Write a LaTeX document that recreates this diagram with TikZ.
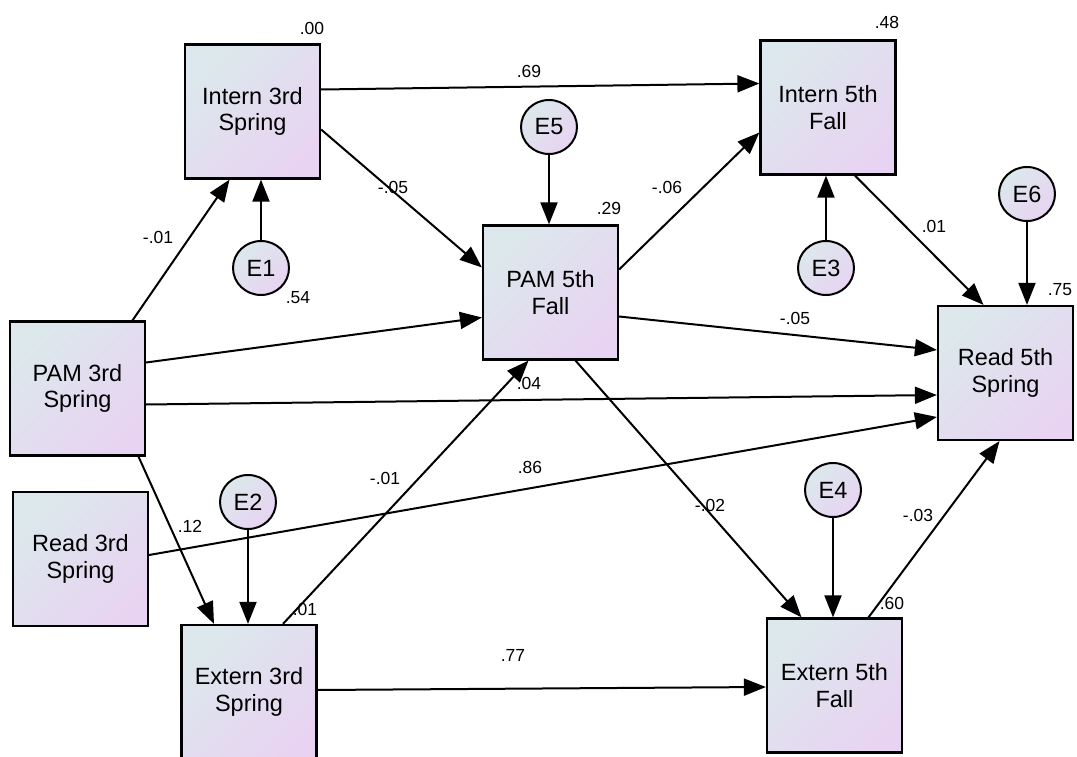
\documentclass[tikz,border=0pt]{standalone}
\usepackage{fontspec}
\setmainfont{Liberation Sans}
\usetikzlibrary{arrows.meta,shapes.geometric,calc}
\definecolor{gA}{RGB}{220,232,236}
\definecolor{gB}{RGB}{232,212,242}
\begin{document}
\begin{tikzpicture}[x=1pt,y=-1pt,
  var/.style={draw, line width=2.2pt, top color=gA, bottom color=gB, shading angle=45,
    minimum width=135pt, minimum height=134pt, inner sep=0pt, align=center,
    font=\fontsize{23.5}{26.5}\selectfont},
  err/.style={ellipse, draw, line width=2pt, top color=gA, bottom color=gB, shading angle=45,
    minimum width=56pt, minimum height=54pt, inner sep=0pt,
    font=\fontsize{23.5}{26.5}\selectfont},
  arr/.style={-{Triangle[length=22pt,width=17pt]}, line width=2pt},
  lab/.style={font=\fontsize{17.5}{20}\selectfont, inner sep=0pt}
]
\useasboundingbox (0,0) rectangle (1077,757);

% observed variables
\node[var] (I3) at (252.5,111.5) {Intern 3rd\\Spring};
\node[var] (P3) at (77.5,388.5) {PAM 3rd\\Spring};
\node[var] (R3) at (80.5,559) {Read 3rd\\Spring};
\node[var] (X3) at (249,692) {Extern 3rd\\Spring};
\node[var] (P5) at (550.5,292.5) {PAM 5th\\Fall};
\node[var] (I5) at (828,107.5) {Intern 5th\\Fall};
\node[var] (R5) at (1005.5,373) {Read 5th\\Spring};
\node[var] (X5) at (834.5,685.5) {Extern 5th\\Fall};

% error terms
\node[err] (E1) at (261,268) {E1};
\node[err] (E2) at (248,502) {E2};
\node[err] (E3) at (826,268) {E3};
\node[err] (E4) at (833,490) {E4};
\node[err] (E5) at (549,127) {E5};
\node[err] (E6) at (1027,194) {E6};

% paths
\draw[arr] ($(P3.north)+(55,0)$) -- ($(I3.south)+(-23,0)$);
\draw[arr] (E1.north) -- (E1.north |- I3.south);
\draw[arr] ($(I3.east)+(0,-22)$) -- ($(I5.west)+(0,-24)$);
\draw[arr] ($(I3.east)+(0,18)$) -- ($(P5.west)+(0,-25)$);
\draw[arr] ($(P3.east)+(0,-26)$) -- ($(P5.west)+(0,25)$);
\draw[arr] ($(P3.east)+(0,16)$) -- ($(R5.west)+(0,22)$);
\draw[arr] ($(R3.east)+(0,-4)$) -- ($(R5.west)+(0,44)$);
\draw[arr] ($(P5.east)+(0,24)$) -- ($(R5.west)+(0,-23)$);
\draw[arr] ($(P3.south)+(61,0)$) -- ($(X3.north)+(-35,0)$);
\draw[arr] (E2.south) -- (E2.south |- X3.north);
\draw[arr] ($(X3.north)+(34,0)$) -- ($(P5.south)+(-22,0)$);
\draw[arr] ($(X3.east)+(0,-2)$) -- ($(X5.west)+(0,1.5)$);
\draw[arr] ($(P5.south)+(25,0)$) -- ($(X5.north)+(-33,0)$);
\draw[arr] (E4.south) -- (E4.south |- X5.north);
\draw[arr] ($(X5.north)+(34,0)$) -- ($(R5.south)+(-6,0)$);
\draw[arr] ($(P5.east)+(0,-23)$) -- ($(I5.west)+(0,25)$);
\draw[arr] ($(I5.south)+(27,0)$) -- ($(R5.north)+(-22,0)$);
\draw[arr] (E3.north) -- (E3.north |- I5.south);
\draw[arr] (E5.south) -- (E5.south |- P5.north);
\draw[arr] (E6.south) -- (E6.south |- R5.north);

% squared multiple correlations
\node[lab] (rI3) at (312,28) {.00};
\node[lab] (rI5) at (887,22) {.48};
\node[lab] (rP5) at (609,208) {.29};
\node[lab] (rR5) at (1060,290) {.75};
\node[lab] (rX3) at (305,609) {.01};
\node[lab] (rX5) at (892,603) {.60};

% path coefficients
\node[lab] (l1) at (529,71) {.69};
\node[lab] (l2) at (393,187) {-.05};
\node[lab] (l3) at (158,237) {-.01};
\node[lab] (l4) at (298,298) {.54};
\node[lab] (l5) at (667,187) {-.06};
\node[lab] (l6) at (934,226) {.01};
\node[lab] (l7) at (795,318) {-.05};
\node[lab] (l8) at (529,383) {.04};
\node[lab] (l9) at (530,467) {.86};
\node[lab] (l10) at (385,478) {-.01};
\node[lab] (l11) at (190,526) {.12};
\node[lab] (l12) at (710,505) {-.02};
\node[lab] (l13) at (918,515) {-.03};
\node[lab] (l14) at (513,655) {.77};
\end{tikzpicture}
\end{document}
